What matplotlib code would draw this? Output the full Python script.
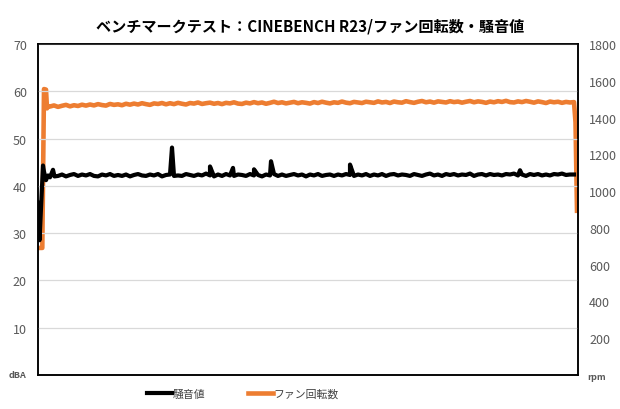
import matplotlib
matplotlib.use("Agg")
import matplotlib.pyplot as plt
import numpy as np

plt.rcParams['font.family'] = ['Noto Sans CJK JP', 'DejaVu Sans']

title = "ベンチマークテスト：CINEBENCH R23/ファン回転数・騒音値"
noise_label = "騒音値"
fan_label = "ファン回転数"

# noise (dBA): start-up part, then one sample every 4 s from t=20
noise_start_t = [0, 1, 1.5, 5, 6, 8, 10, 12, 15, 16.5]
noise_start = [36.5, 36.3, 28.5, 44.3, 43.0, 41.2, 42.2, 41.8, 43.4, 42.0]
noise_main = [
    42.1, 42.4, 42.0, 42.3, 42.5, 42.1, 42.4, 42.2, 42.5, 42.1,
    42.0, 42.4, 42.2, 42.5, 42.1, 42.3, 42.1, 42.4, 42.0, 42.3,
    42.5, 42.2, 42.1, 42.4, 42.2, 42.5, 42.0, 42.3, 42.4, 42.1,
    42.2, 42.1, 42.5, 42.3, 42.1, 42.4, 42.2, 42.6, 42.2, 42.0,
    42.4, 42.1, 42.5, 42.2, 42.1, 42.4, 42.3, 42.1, 42.5, 42.2,
    42.3, 42.0, 42.4, 42.2, 42.5, 42.1, 42.4, 42.1, 42.3, 42.5,
    42.2, 42.4, 42.0, 42.4, 42.2, 42.5, 42.1, 42.3, 42.4, 42.1,
    42.4, 42.2, 42.5, 42.3, 42.1, 42.4, 42.2, 42.5, 42.1, 42.4,
    42.2, 42.5, 42.1, 42.4, 42.5, 42.2, 42.4, 42.3, 42.1, 42.5,
    42.3, 42.1, 42.4, 42.6, 42.2, 42.4, 42.1, 42.5, 42.3, 42.5,
    42.2, 42.4, 42.3, 42.6, 42.1, 42.4, 42.5, 42.2, 42.5, 42.3,
    42.4, 42.2, 42.5, 42.4, 42.6, 42.2, 42.4, 42.1, 42.5, 42.3,
    42.5, 42.2, 42.4, 42.2, 42.5, 42.4, 42.6, 42.3, 42.4, 42.4,
]
spike_t = [134, 172, 195, 216, 233, 312, 482]
spike_dba = [48.1, 44.1, 43.8, 43.5, 45.2, 44.5, 43.3]

# fan speed (rpm): start-up, then one sample every 4 s from t=12, then stop
fan_start_t = [0, 4.3, 6, 8, 9, 10]
fan_start = [691, 691, 1555, 1552, 1450, 1462]
fan_main = [
    1460, 1466, 1458, 1464, 1469, 1461, 1467, 1463, 1470, 1465,
    1471, 1466, 1473, 1468, 1465, 1474, 1469, 1472, 1467, 1475,
    1470, 1476, 1471, 1478, 1473, 1469, 1477, 1474, 1479, 1472,
    1478, 1473, 1480, 1475, 1471, 1479, 1476, 1482, 1474, 1478,
    1481, 1475, 1479, 1473, 1480, 1477, 1483, 1476, 1474, 1481,
    1477, 1484, 1478, 1482, 1475, 1480, 1486, 1479, 1483, 1477,
    1481, 1485, 1478, 1483, 1480, 1476, 1484, 1479, 1486, 1481,
    1477, 1483, 1480, 1487, 1481, 1478, 1485, 1482, 1479, 1486,
    1483, 1480, 1488, 1482, 1485, 1479, 1487, 1483, 1481, 1489,
    1484, 1480, 1486, 1490, 1483, 1487, 1481, 1488, 1485, 1482,
    1489, 1484, 1487, 1481, 1486, 1490, 1483, 1488, 1485, 1480,
    1487, 1483, 1489, 1485, 1491, 1484, 1482, 1488, 1484, 1490,
    1486, 1481, 1488, 1484, 1479, 1487, 1483, 1486, 1480, 1485,
    1482, 1484,
]
fan_end_t = [537.5, 539]
fan_end = [1375, 893]

dba_ticks = [10, 20, 30, 40, 50, 60, 70]
rpm_ticks = [200, 400, 600, 800, 1000, 1200, 1400, 1600, 1800]

# assemble series
n_t = np.concatenate([noise_start_t, 20 + 4 * np.arange(len(noise_main)), spike_t])
n_v = np.concatenate([noise_start, noise_main, spike_dba])
order = np.argsort(n_t, kind="stable")
n_t, n_v = n_t[order], n_v[order]

f_t = np.concatenate([fan_start_t, 12 + 4 * np.arange(len(fan_main)), fan_end_t])
f_v = np.concatenate([fan_start, fan_main, fan_end])

grey = "#595959"
orange = "#ED7D31"

fig = plt.figure(figsize=(6.2, 4.1), dpi=100)
ax = fig.add_axes([38 / 620, 1 - 376 / 410, 540 / 620, 331 / 410])
ax2 = ax.twinx()

ax.set_ylim(0, 70)
ax.set_xlim(0, 540)
ax2.set_ylim(0, 1800)

ax.set_yticks(dba_ticks)
ax.set_yticklabels([str(v) for v in dba_ticks])
ax2.set_yticks(rpm_ticks)
ax2.set_yticklabels([str(v) for v in rpm_ticks])
ax.set_xticks([])

ax.grid(axis="y", color="#d9d9d9", linewidth=0.9)
ax.set_axisbelow(True)
ax.tick_params(axis="y", length=0, pad=8, labelsize=9, labelcolor=grey)
ax2.tick_params(axis="y", length=0, pad=8, labelsize=9, labelcolor=grey)

for a in (ax, ax2):
    for s in a.spines.values():
        s.set_color("black")
        s.set_linewidth(1.1)

ax.text(-0.022, 0.0, "dBA", transform=ax.transAxes, ha="right", va="center",
        fontsize=6.5, color=grey, fontweight="bold")
ax2.text(1.018, -0.005, "rpm", transform=ax.transAxes, ha="left", va="center",
         fontsize=6.5, color=grey, fontweight="bold")

l1, = ax.plot(n_t, n_v, color="black", linewidth=3.0, solid_joinstyle="round",
              zorder=3, label=noise_label)
l2, = ax2.plot(f_t, f_v, color=orange, linewidth=3.3, solid_joinstyle="round",
               zorder=2, label=fan_label)
ax.set_zorder(ax2.get_zorder() + 1)
ax.patch.set_visible(False)

fig.suptitle(title, x=0.5, y=1 - 26 / 410, va="center", fontsize=10.9,
             fontweight="bold")

fig.legend(handles=[l1, l2], loc="center", bbox_to_anchor=(0.392, 1 - 395 / 410),
           ncol=2, frameon=False, fontsize=7.8, handlelength=2.3, handletextpad=0.05,
           columnspacing=4.0, labelcolor="#404040")

fig.savefig("out.png", dpi=100)
